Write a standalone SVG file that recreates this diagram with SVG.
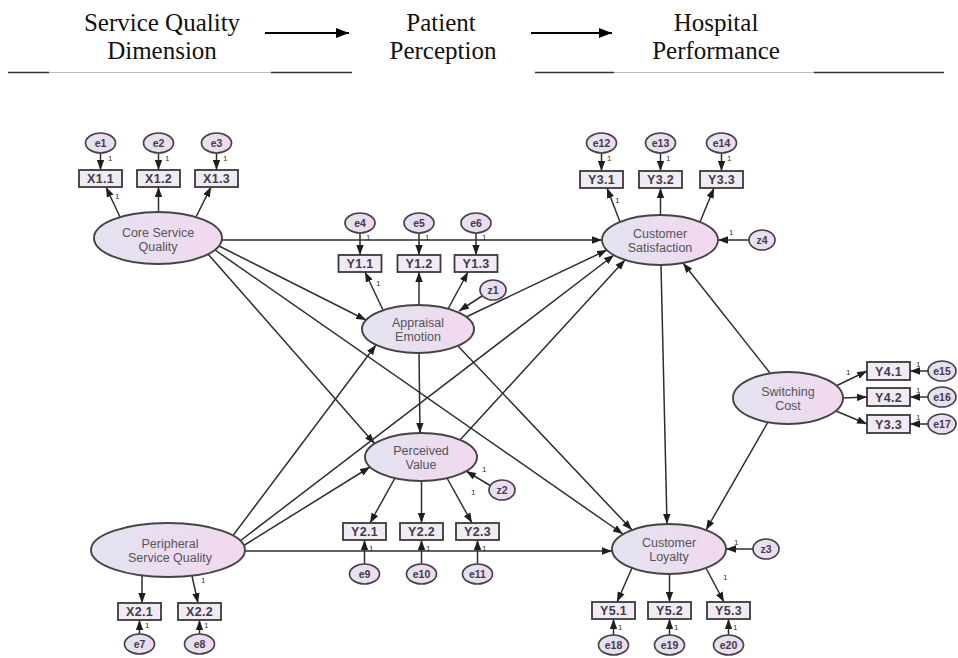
<svg xmlns="http://www.w3.org/2000/svg" width="958" height="658" viewBox="0 0 958 658">
<defs>
<linearGradient id="lg" x1="0" y1="0" x2="1" y2="0">
<stop offset="0" stop-color="#e3e3f1"/>
<stop offset="1" stop-color="#f2d8ee"/>
</linearGradient>
<marker id="ah" viewBox="0 0 10 8" refX="10" refY="4" markerWidth="10" markerHeight="8" markerUnits="userSpaceOnUse" orient="auto">
<path d="M0,0.3 L10,4 L0,7.7 z" fill="#1e1e1e"/>
</marker>
<marker id="bh" viewBox="0 0 13 10" refX="13" refY="5" markerWidth="13" markerHeight="10" markerUnits="userSpaceOnUse" orient="auto">
<path d="M0,0 L13,5 L0,10 z" fill="#000"/>
</marker>
</defs>
<style>
.hd{font-family:"Liberation Serif","Times New Roman",serif;font-size:25px;fill:#111;text-anchor:middle}
.c line{stroke:#2e2e2e;stroke-width:1.5;fill:none;marker-end:url(#ah)}
.lat ellipse{fill:url(#lg);stroke:#444;stroke-width:1.9}
.lat text{font-family:"Liberation Sans",Arial,sans-serif;font-size:12.5px;fill:#555;text-anchor:middle}
.box rect{fill:#f1e9f4;stroke:#3a3a3a;stroke-width:1.8}
.box text{font-family:"Liberation Sans",Arial,sans-serif;font-size:12.5px;font-weight:bold;fill:#3d3d4a;text-anchor:middle;letter-spacing:0.3px}
.er ellipse{fill:url(#lg);stroke:#444;stroke-width:1.7}
.er text{font-family:"Liberation Sans",Arial,sans-serif;font-size:10.5px;font-weight:bold;fill:#3d3d4a;text-anchor:middle}
.w{font-family:"Liberation Sans",Arial,sans-serif;font-size:8px;fill:#333}
</style>
<rect width="958" height="658" fill="#fff"/>

<g id="header">
<text class="hd" x="162" y="31">Service Quality</text>
<text class="hd" x="162" y="59">Dimension</text>
<text class="hd" x="441" y="31">Patient</text>
<text class="hd" x="443" y="59">Perception</text>
<text class="hd" x="716" y="31">Hospital</text>
<text class="hd" x="716" y="59">Performance</text>
<line x1="265" y1="33" x2="349" y2="33" stroke="#000" stroke-width="2" marker-end="url(#bh)"/>
<line x1="531" y1="33" x2="612" y2="33" stroke="#000" stroke-width="2" marker-end="url(#bh)"/>
<line x1="8" y1="72.5" x2="49" y2="72.5" stroke="#333" stroke-width="1.6"/>
<line x1="49" y1="72.5" x2="271" y2="72.5" stroke="#bbb" stroke-width="1"/>
<line x1="271" y1="72.5" x2="352" y2="72.5" stroke="#333" stroke-width="1.6"/>
<line x1="535" y1="72.5" x2="614" y2="72.5" stroke="#333" stroke-width="1.6"/>
<line x1="614" y1="72.5" x2="814" y2="72.5" stroke="#bbb" stroke-width="1"/>
<line x1="814" y1="72.5" x2="944" y2="72.5" stroke="#333" stroke-width="1.6"/>
</g>

<g id="connectors" class="c">
<line x1="100.5" y1="153" x2="100.5" y2="170"/>
<line x1="158.5" y1="153" x2="158.5" y2="170"/>
<line x1="216.5" y1="153" x2="216.5" y2="170"/>
<line x1="360" y1="233" x2="360" y2="255"/>
<line x1="419" y1="233" x2="419" y2="255"/>
<line x1="476" y1="233" x2="476" y2="255"/>
<line x1="601.5" y1="153" x2="601.5" y2="171"/>
<line x1="660.5" y1="153" x2="660.5" y2="171"/>
<line x1="721.5" y1="153" x2="721.5" y2="171"/>
<line x1="364.5" y1="564" x2="364.5" y2="540"/>
<line x1="421.5" y1="564" x2="421.5" y2="540"/>
<line x1="477.5" y1="564" x2="477.5" y2="540"/>
<line x1="139.5" y1="634" x2="139.5" y2="620"/>
<line x1="199.5" y1="634" x2="199.5" y2="620"/>
<line x1="613.5" y1="635" x2="613.5" y2="619"/>
<line x1="669.5" y1="635" x2="669.5" y2="619"/>
<line x1="728.5" y1="635" x2="728.5" y2="619"/>
<line x1="928" y1="371" x2="910" y2="371"/>
<line x1="928" y1="397" x2="910" y2="397"/>
<line x1="928" y1="424" x2="910" y2="424"/>
<line x1="482" y1="296" x2="459" y2="311"/>
<line x1="491" y1="486" x2="466" y2="471"/>
<line x1="749" y1="240" x2="718" y2="240"/>
<line x1="753" y1="549" x2="726" y2="549"/>
<line x1="120" y1="217" x2="106" y2="187"/>
<line x1="158.5" y1="212" x2="158.5" y2="187"/>
<line x1="196" y1="217" x2="211" y2="187"/>
<line x1="383" y1="310" x2="365" y2="272"/>
<line x1="419" y1="305" x2="419" y2="272"/>
<line x1="448" y1="309" x2="468" y2="272"/>
<line x1="620" y1="222" x2="607" y2="188"/>
<line x1="660.5" y1="215" x2="660.5" y2="188"/>
<line x1="700" y1="222" x2="714" y2="188"/>
<line x1="395" y1="478" x2="370" y2="523"/>
<line x1="421.5" y1="481" x2="421.5" y2="523"/>
<line x1="447" y1="478" x2="472" y2="523"/>
<line x1="142" y1="575" x2="142" y2="603"/>
<line x1="192" y1="576" x2="198" y2="603"/>
<line x1="632" y1="568" x2="617" y2="602"/>
<line x1="669.5" y1="574" x2="669.5" y2="602"/>
<line x1="706" y1="568" x2="724" y2="602"/>
<line x1="836" y1="386" x2="867" y2="371"/>
<line x1="843" y1="398" x2="867" y2="397"/>
<line x1="836" y1="411" x2="867" y2="424"/>
<line x1="222" y1="240" x2="602" y2="240"/>
<line x1="219" y1="246" x2="366" y2="320"/>
<line x1="215" y1="250" x2="623" y2="534"/>
<line x1="208" y1="254" x2="374.5" y2="443.5"/>
<line x1="233" y1="535.5" x2="376" y2="345"/>
<line x1="240" y1="541" x2="614" y2="255"/>
<line x1="243" y1="546" x2="370" y2="467"/>
<line x1="245" y1="551" x2="612" y2="551"/>
<line x1="466" y1="317" x2="607" y2="250"/>
<line x1="419" y1="353" x2="420" y2="433"/>
<line x1="458" y1="346" x2="632" y2="530"/>
<line x1="460" y1="440" x2="625" y2="260"/>
<line x1="661" y1="265" x2="667" y2="524"/>
<line x1="770" y1="373" x2="683" y2="263"/>
<line x1="768" y1="422" x2="706" y2="530"/>
</g>

<g id="weights">
<text class="w" x="108" y="161">1</text>
<text class="w" x="165" y="161">1</text>
<text class="w" x="223" y="161">1</text>
<text class="w" x="115" y="199">1</text>
<text class="w" x="366" y="240">1</text>
<text class="w" x="425" y="240">1</text>
<text class="w" x="482" y="240">1</text>
<text class="w" x="376" y="286">1</text>
<text class="w" x="607" y="161">1</text>
<text class="w" x="666" y="161">1</text>
<text class="w" x="727" y="161">1</text>
<text class="w" x="615" y="203">1</text>
<text class="w" x="729" y="235">1</text>
<text class="w" x="846" y="375">1</text>
<text class="w" x="916" y="367">1</text>
<text class="w" x="916" y="393">1</text>
<text class="w" x="916" y="420">1</text>
<text class="w" x="482" y="472">1</text>
<text class="w" x="471" y="495">1</text>
<text class="w" x="369" y="551">1</text>
<text class="w" x="426" y="551">1</text>
<text class="w" x="482" y="551">1</text>
<text class="w" x="201" y="583">1</text>
<text class="w" x="145" y="628">1</text>
<text class="w" x="204" y="628">1</text>
<text class="w" x="734" y="545">1</text>
<text class="w" x="723" y="580">1</text>
<text class="w" x="618" y="630">1</text>
<text class="w" x="674" y="630">1</text>
<text class="w" x="733" y="630">1</text>
</g>

<g id="core-service-quality" class="lat"><ellipse cx="158" cy="238" rx="64" ry="26"/><text x="158" y="237">Core Service</text><text x="158" y="251">Quality</text></g>
<g id="appraisal-emotion" class="lat"><ellipse cx="418" cy="329" rx="56" ry="24"/><text x="418" y="327">Appraisal</text><text x="418" y="341">Emotion</text></g>
<g id="customer-satisfaction" class="lat"><ellipse cx="660" cy="240" rx="58" ry="25"/><text x="660" y="238">Customer</text><text x="660" y="252">Satisfaction</text></g>
<g id="perceived-value" class="lat"><ellipse cx="421" cy="457" rx="56" ry="24"/><text x="421" y="455">Perceived</text><text x="421" y="469">Value</text></g>
<g id="peripheral-service-quality" class="lat"><ellipse cx="168" cy="550" rx="77" ry="27"/><text x="170" y="548">Peripheral</text><text x="170" y="562">Service Quality</text></g>
<g id="customer-loyalty" class="lat"><ellipse cx="669" cy="549" rx="57" ry="25"/><text x="669" y="547">Customer</text><text x="669" y="561">Loyalty</text></g>
<g id="switching-cost" class="lat"><ellipse cx="788" cy="398" rx="55" ry="26"/><text x="788" y="396">Switching</text><text x="788" y="410">Cost</text></g>

<g id="X1.1" class="box"><rect x="79" y="170" width="43" height="17"/><text x="100.5" y="183">X1.1</text></g>
<g id="X1.2" class="box"><rect x="137" y="170" width="43" height="17"/><text x="158.5" y="183">X1.2</text></g>
<g id="X1.3" class="box"><rect x="195" y="170" width="43" height="17"/><text x="216.5" y="183">X1.3</text></g>
<g id="Y1.1" class="box"><rect x="338.5" y="255" width="43" height="17"/><text x="360" y="268">Y1.1</text></g>
<g id="Y1.2" class="box"><rect x="397.5" y="255" width="43" height="17"/><text x="419" y="268">Y1.2</text></g>
<g id="Y1.3" class="box"><rect x="454.5" y="255" width="43" height="17"/><text x="476" y="268">Y1.3</text></g>
<g id="Y3.1" class="box"><rect x="580" y="171" width="43" height="17"/><text x="601.5" y="184">Y3.1</text></g>
<g id="Y3.2" class="box"><rect x="639" y="171" width="43" height="17"/><text x="660.5" y="184">Y3.2</text></g>
<g id="Y3.3" class="box"><rect x="700" y="171" width="43" height="17"/><text x="721.5" y="184">Y3.3</text></g>
<g id="Y2.1" class="box"><rect x="343" y="523" width="43" height="17"/><text x="364.5" y="536">Y2.1</text></g>
<g id="Y2.2" class="box"><rect x="400" y="523" width="43" height="17"/><text x="421.5" y="536">Y2.2</text></g>
<g id="Y2.3" class="box"><rect x="456" y="523" width="43" height="17"/><text x="477.5" y="536">Y2.3</text></g>
<g id="X2.1" class="box"><rect x="118" y="603" width="43" height="17"/><text x="139.5" y="616">X2.1</text></g>
<g id="X2.2" class="box"><rect x="178" y="603" width="43" height="17"/><text x="199.5" y="616">X2.2</text></g>
<g id="Y5.1" class="box"><rect x="592" y="602" width="43" height="17"/><text x="613.5" y="615">Y5.1</text></g>
<g id="Y5.2" class="box"><rect x="648" y="602" width="43" height="17"/><text x="669.5" y="615">Y5.2</text></g>
<g id="Y5.3" class="box"><rect x="707" y="602" width="43" height="17"/><text x="728.5" y="615">Y5.3</text></g>
<g id="Y4.1" class="box"><rect x="867" y="362" width="43" height="18"/><text x="888.5" y="375.5">Y4.1</text></g>
<g id="Y4.2" class="box"><rect x="867" y="388" width="43" height="18"/><text x="888.5" y="401.5">Y4.2</text></g>
<g id="Y3.3b" class="box"><rect x="867" y="415" width="43" height="18"/><text x="888.5" y="428.5">Y3.3</text></g>

<g id="e1" class="er"><ellipse cx="100.5" cy="143" rx="15" ry="10"/><text x="100.5" y="147">e1</text></g>
<g id="e2" class="er"><ellipse cx="158.5" cy="143" rx="15" ry="10"/><text x="158.5" y="147">e2</text></g>
<g id="e3" class="er"><ellipse cx="216.5" cy="143" rx="15" ry="10"/><text x="216.5" y="147">e3</text></g>
<g id="e4" class="er"><ellipse cx="360" cy="223" rx="15" ry="10"/><text x="360" y="227">e4</text></g>
<g id="e5" class="er"><ellipse cx="419" cy="223" rx="15" ry="10"/><text x="419" y="227">e5</text></g>
<g id="e6" class="er"><ellipse cx="476" cy="223" rx="15" ry="10"/><text x="476" y="227">e6</text></g>
<g id="e12" class="er"><ellipse cx="601.5" cy="143" rx="15" ry="10"/><text x="601.5" y="147">e12</text></g>
<g id="e13" class="er"><ellipse cx="660.5" cy="143" rx="15" ry="10"/><text x="660.5" y="147">e13</text></g>
<g id="e14" class="er"><ellipse cx="721.5" cy="143" rx="15" ry="10"/><text x="721.5" y="147">e14</text></g>
<g id="e9" class="er"><ellipse cx="364.5" cy="574" rx="15" ry="10"/><text x="364.5" y="578">e9</text></g>
<g id="e10" class="er"><ellipse cx="421.5" cy="574" rx="15" ry="10"/><text x="421.5" y="578">e10</text></g>
<g id="e11" class="er"><ellipse cx="477.5" cy="574" rx="15" ry="10"/><text x="477.5" y="578">e11</text></g>
<g id="e7" class="er"><ellipse cx="139.5" cy="644" rx="15" ry="10"/><text x="139.5" y="648">e7</text></g>
<g id="e8" class="er"><ellipse cx="199.5" cy="644" rx="15" ry="10"/><text x="199.5" y="648">e8</text></g>
<g id="e18" class="er"><ellipse cx="613.5" cy="645" rx="15" ry="10"/><text x="613.5" y="649">e18</text></g>
<g id="e19" class="er"><ellipse cx="669.5" cy="645" rx="15" ry="10"/><text x="669.5" y="649">e19</text></g>
<g id="e20" class="er"><ellipse cx="728.5" cy="645" rx="15" ry="10"/><text x="728.5" y="649">e20</text></g>
<g id="e15" class="er"><ellipse cx="942" cy="371" rx="14" ry="10"/><text x="942" y="375">e15</text></g>
<g id="e16" class="er"><ellipse cx="942" cy="397" rx="14" ry="10"/><text x="942" y="401">e16</text></g>
<g id="e17" class="er"><ellipse cx="942" cy="424" rx="14" ry="10"/><text x="942" y="428">e17</text></g>
<g id="z1" class="er"><ellipse cx="493" cy="290" rx="13" ry="10"/><text x="493" y="294">z1</text></g>
<g id="z2" class="er"><ellipse cx="502" cy="490" rx="13" ry="10"/><text x="502" y="494">z2</text></g>
<g id="z4" class="er"><ellipse cx="762" cy="240" rx="13" ry="10"/><text x="762" y="244">z4</text></g>
<g id="z3" class="er"><ellipse cx="766" cy="549" rx="13" ry="10"/><text x="766" y="553">z3</text></g>
</svg>
